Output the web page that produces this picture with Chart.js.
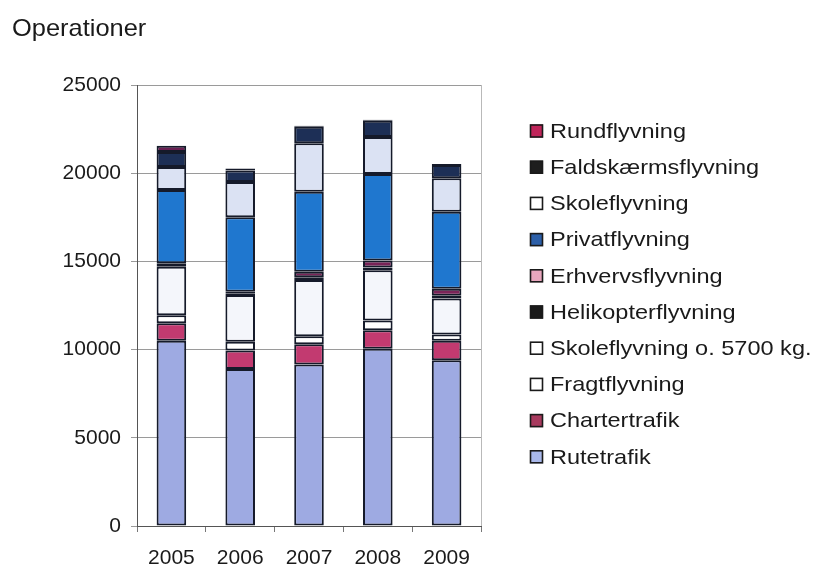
<!DOCTYPE html>
<html>
<head>
<meta charset="utf-8">
<script src="https://cdn.jsdelivr.net/npm/chart.js@4/dist/chart.umd.min.js"></script>
<style>
  html, body { margin: 0; padding: 0; background: #ffffff; }
  #wrap { width: 815px; height: 571px; position: relative; }
</style>
</head>
<body>
<div id="wrap"><canvas id="chart" width="815" height="571"></canvas></div>
<script>
// Årstal på x-aksen
const years = ['2005', '2006', '2007', '2008', '2009'];

// Operationer pr. kategori (stables nedefra og op)
const rutetrafik        = [10500, 8900, 9150, 10050, 9400];
const chartertrafik     = [1000, 1050, 1150, 1050, 1100];
const fragtflyvning     = [450, 500, 450, 550, 350];
const skoleOver5700     = [2750, 2650, 3200, 2850, 2050];
const helikopterflyvning = [100, 100, 150, 150, 150];
const erhvervsflyvning  = [100, 80, 320, 400, 400];
const privatflyvning    = [4150, 4220, 4530, 4900, 4370];
const skoleflyvning     = [1300, 2000, 2750, 2100, 1890];
const faldskaermsflyvning = [850, 660, 940, 930, 760];
const rundflyvning      = [350, 100, 50, 50, 50];

// Serienavne i stakrækkefølge
const seriesNames = [
  'Rutetrafik', 'Chartertrafik', 'Fragtflyvning', 'Skoleflyvning o. 5700 kg.',
  'Helikopterflyvning', 'Erhvervsflyvning', 'Privatflyvning', 'Skoleflyvning',
  'Faldskærmsflyvning', 'Rundflyvning'
];
const seriesValues = [
  rutetrafik, chartertrafik, fragtflyvning, skoleOver5700, helikopterflyvning,
  erhvervsflyvning, privatflyvning, skoleflyvning, faldskaermsflyvning, rundflyvning
];

// Y-akse
const yMax = 25000;
const yStep = 5000;

// Farver i søjlerne og i signaturforklaringen
const barColors = [
  '#9eaae2', '#c23a70', '#ffffff', '#f4f6fb', '#161b26',
  '#7a2458', '#1f77cf', '#dbe2f3', '#1d2f56', '#6a1f52'
];
const keyColors = [
  '#a9b8ea', '#a83a5e', '#ffffff', '#ffffff', '#1a1a1a',
  '#e8a6bd', '#2c5fa8', '#ffffff', '#1e1e1e', '#c0255a'
];

const FONT = '"Liberation Sans", Arial, Helvetica, sans-serif';

const datasets = seriesNames.map((name, i) => ({
  label: name,
  data: seriesValues[i],
  backgroundColor: barColors[i],
  borderColor: '#151a2a',
  borderWidth: 2,
  borderSkipped: false,
  barPercentage: 0.43,
  categoryPercentage: 1.0
}));

// Tegner overskrift, ramme og signaturforklaring
const decorations = {
  id: 'decorations',
  beforeDatasetsDraw(chart) {
    const { ctx, chartArea } = chart;
    ctx.save();
    ctx.strokeStyle = '#b9b9b9';
    ctx.lineWidth = 1;
    ctx.beginPath();
    ctx.moveTo(chartArea.right + 0.5, chartArea.top);
    ctx.lineTo(chartArea.right + 0.5, chartArea.bottom);
    ctx.stroke();
    ctx.restore();
  },
  afterDraw(chart) {
    const { ctx } = chart;
    ctx.save();
    // Overskrift
    ctx.fillStyle = '#1a1a1a';
    ctx.font = '24px ' + FONT;
    ctx.textBaseline = 'alphabetic';
    ctx.save();
    ctx.translate(12, 36);
    ctx.scale(1.06, 1);
    ctx.fillText('Operationer', 0, 0);
    ctx.restore();

    // Signaturforklaring, øverste serie først
    const x0 = 530, y0 = 131, rowH = 36.2, sw = 13;
    const n = chart.data.datasets.length;
    for (let k = 0; k < n; k++) {
      const i = n - 1 - k;
      const ds = chart.data.datasets[i];
      const cy = y0 + k * rowH;
      ctx.fillStyle = keyColors[i];
      ctx.fillRect(x0, cy - sw / 2, sw, sw);
      ctx.strokeStyle = '#1a1a1a';
      ctx.lineWidth = 1.6;
      ctx.strokeRect(x0 + 0.5, cy - sw / 2 + 0.5, sw - 1, sw - 1);
      ctx.fillStyle = '#1a1a1a';
      ctx.font = '21px ' + FONT;
      ctx.textBaseline = 'middle';
      ctx.save();
      ctx.translate(x0 + 20, cy + 1);
      ctx.scale(1.12, 1);
      ctx.fillText(ds.label, 0, 0);
      ctx.restore();
    }
    ctx.restore();
  }
};

new Chart(document.getElementById('chart'), {
  type: 'bar',
  data: { labels: years, datasets },
  options: {
    responsive: false,
    animation: false,
    layout: { padding: { top: 85, right: 334, bottom: 0, left: 0 } },
    plugins: {
      legend: { display: false },
      title: { display: false },
      tooltip: { enabled: false }
    },
    scales: {
      x: {
        stacked: true,
        offset: true,
        grid: {
          display: true,
          offset: true,
          drawOnChartArea: false,
          drawTicks: true,
          tickLength: 6,
          color: '#777777'
        },
        border: { display: true, color: '#555555', width: 1 },
        ticks: {
          color: '#1a1a1a',
          font: { family: FONT, size: 21 },
          padding: 14,
          maxRotation: 0
        },
        afterFit(scale) { scale.height = 45; }
      },
      y: {
        stacked: true,
        min: 0,
        max: yMax,
        ticks: {
          stepSize: yStep,
          color: '#1a1a1a',
          font: { family: FONT, size: 21 },
          padding: 10,
          callback: (v) => String(v)
        },
        grid: {
          color: '#9a9a9a',
          lineWidth: 1,
          tickLength: 6,
          drawTicks: true
        },
        border: { display: true, color: '#555555', width: 1 },
        afterFit(scale) { scale.width = 137; }
      }
    }
  },
  plugins: [decorations]
});
</script>
</body>
</html>
